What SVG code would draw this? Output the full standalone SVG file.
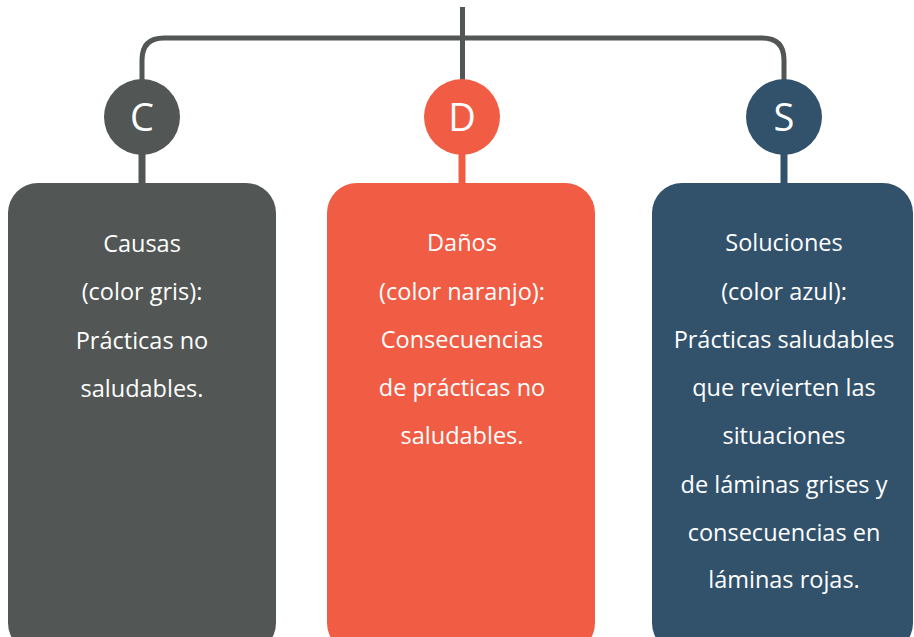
<svg xmlns="http://www.w3.org/2000/svg" width="914" height="637" viewBox="0 0 914 637">
<style>
.t{font-family:"Open Sans","Noto Sans",sans-serif;font-size:23.5px;fill:#fff;text-anchor:middle}
.l{font-family:"Open Sans","Noto Sans",sans-serif;font-size:38px;fill:#fff;text-anchor:middle}
.gray{fill:#525654}.orange{fill:#F05C44}.blue{fill:#32526C}
</style>
<rect width="914" height="637" fill="#fff"/>
<g id="connectors" fill="none" stroke-width="5">
<path d="M462.5 7 V80" stroke="#525654"/>
<path d="M142 80 V60 Q142 38 164 38 H762 Q784 38 784 60 V80" stroke="#525654"/>
<path d="M142 150 V186" stroke="#525654" stroke-width="7"/>
<path d="M462 150 V186" stroke="#F05C44" stroke-width="7"/>
<path d="M784 150 V186" stroke="#32526C" stroke-width="7"/>
</g>
<g id="node-c">
<circle cx="142" cy="117" r="38" class="gray"/>
<text x="142" y="131" class="l">C</text>
<rect x="8" y="183" width="268" height="470" rx="30" class="gray"/>
<text class="t" x="142" y="252">Causas</text>
<text class="t" x="142" y="300">(color gris):</text>
<text class="t" x="142" y="349">Prácticas no</text>
<text class="t" x="142" y="397">saludables.</text>
</g>
<g id="node-d">
<circle cx="462" cy="117" r="38" class="orange"/>
<text x="462" y="131" class="l">D</text>
<rect x="327" y="183" width="268" height="470" rx="30" class="orange"/>
<text class="t" x="462" y="251">Daños</text>
<text class="t" x="462" y="300">(color naranjo):</text>
<text class="t" x="462" y="348">Consecuencias</text>
<text class="t" x="462" y="396">de prácticas no</text>
<text class="t" x="462" y="444">saludables.</text>
</g>
<g id="node-s">
<circle cx="784" cy="117" r="38" class="blue"/>
<text x="784" y="131" class="l">S</text>
<rect x="652" y="183" width="261" height="470" rx="30" class="blue"/>
<text class="t" x="784" y="251">Soluciones</text>
<text class="t" x="784" y="300">(color azul):</text>
<text class="t" x="784" y="348">Prácticas saludables</text>
<text class="t" x="784" y="396">que revierten las</text>
<text class="t" x="784" y="444">situaciones</text>
<text class="t" x="784" y="493">de láminas grises y</text>
<text class="t" x="784" y="541">consecuencias en</text>
<text class="t" x="784" y="588">láminas rojas.</text>
</g>
</svg>
